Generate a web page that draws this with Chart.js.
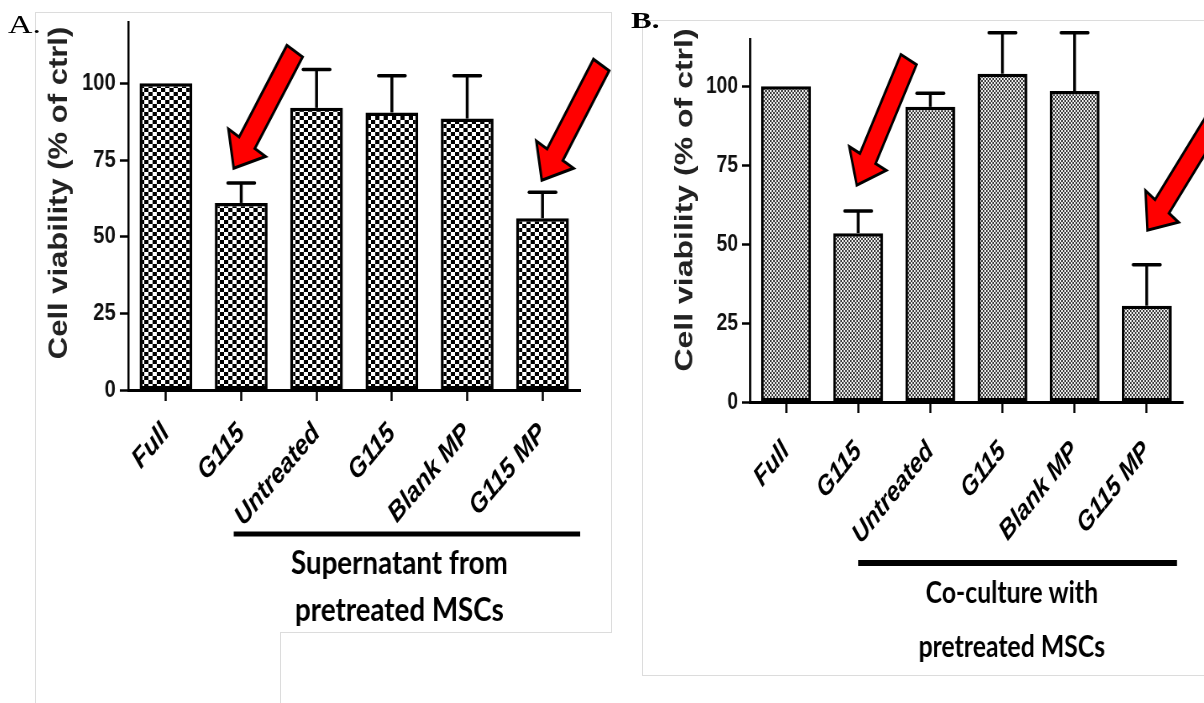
<!DOCTYPE html>
<html>
<head>
<meta charset="utf-8">
<script src="https://cdn.jsdelivr.net/npm/chart.js@4.4.0/dist/chart.umd.min.js"></script>
<style>
  html, body { margin: 0; padding: 0; background: #fff; }
  body { width: 1204px; height: 703px; overflow: hidden; position: relative; }
  .ln { position: absolute; background: #dcdcdc; }
  .wrap { position: absolute; top: 0; transform-origin: 0 0; }
  .tag { position: absolute; font-family: "Liberation Serif", serif; transform-origin: 0 0; white-space: nowrap; }
</style>
</head>
<body>
<!-- faint frames around the two panels -->
<div class="ln" style="left:35px;top:12px;width:577px;height:1px"></div>
<div class="ln" style="left:35px;top:12px;width:1px;height:691px"></div>
<div class="ln" style="left:611px;top:12px;width:1px;height:621px"></div>
<div class="ln" style="left:280px;top:632px;width:332px;height:1px"></div>
<div class="ln" style="left:280px;top:632px;width:1px;height:71px"></div>
<div class="ln" style="left:642px;top:20px;width:562px;height:1px"></div>
<div class="ln" style="left:642px;top:20px;width:1px;height:656px"></div>
<div class="ln" style="left:642px;top:675px;width:562px;height:1px"></div>

<div class="wrap" style="left:35px;transform:scaleX(0.84)"><canvas id="chartA" width="686" height="703"></canvas></div>
<div class="wrap" style="left:642px;transform:scaleX(0.8)"><canvas id="chartB" width="703" height="703"></canvas></div>

<div class="tag" style="left:8px;top:10px;font-size:26px;transform:scaleX(1.3)">A.</div>
<div class="tag" style="left:631px;top:8px;font-size:23px;font-weight:bold;transform:scaleX(1.35)">B.</div>

<script>
// groups on the x axis
const categories = ['Full', 'G115', 'Untreated', 'G115', 'Blank MP', 'G115 MP'];

// A. supernatant from pretreated MSCs
const supernatantMean = [100, 61, 92, 90.5, 88.5, 56];
const supernatantErr = [0, 6.5, 12.5, 12, 14, 8.5];

// B. co-culture with pretreated MSCs
const cocultureMean = [100, 53.5, 93.5, 104, 98.5, 30.5];
const cocultureErr = [0, 7, 4.3, 13, 18.5, 13];

const yStep = 25;
const yTitle = 'Cell viability (% of ctrl)';
const groupA = ['Supernatant from', 'pretreated MSCs'];
const groupB = ['Co-culture with', 'pretreated MSCs'];

// arrows, in data units: [category index, value]
const arrowsA = [
	{from: [1.71, 110.5], to: [0.9, 72.3]},
	{from: [5.78, 106], to: [4.99, 68.4]}
];
const arrowsB = [
	{from: [1.70, 108.5], to: [0.98, 68.7]},
	{from: [6.15, 97], to: [5.01, 54.4]}
];

function checker(w, h, c1, c2) {
	const p = document.createElement('canvas');
	p.width = w * 2; p.height = h * 2;
	const g = p.getContext('2d');
	g.fillStyle = c2; g.fillRect(0, 0, p.width, p.height);
	g.fillStyle = c1;
	g.fillRect(0, 0, w, h);
	g.fillRect(w, h, w, h);
	return g.createPattern(p, 'repeat');
}

const errorBars = {
	id: 'errorBars',
	afterDatasetsDraw(chart, args, opts) {
		const ctx = chart.ctx, y = chart.scales.y;
		const data = chart.data.datasets[0].data;
		ctx.save();
		ctx.strokeStyle = '#000';
		ctx.lineWidth = opts.width;
		chart.getDatasetMeta(0).data.forEach((bar, i) => {
			const e = opts.values[i];
			if (!e) return;
			const top = y.getPixelForValue(data[i] + e);
			ctx.lineCap = 'butt';
			ctx.beginPath();
			ctx.moveTo(bar.x, bar.y);
			ctx.lineTo(bar.x, top);
			ctx.stroke();
			ctx.lineCap = 'round';
			ctx.beginPath();
			ctx.moveTo(bar.x - opts.cap / 2, top);
			ctx.lineTo(bar.x + opts.cap / 2, top);
			ctx.stroke();
		});
		ctx.restore();
	}
};

const arrows = {
	id: 'arrows',
	afterDraw(chart, args, opts) {
		const ctx = chart.ctx, sx = chart.scales.x, sy = chart.scales.y;
		ctx.save();
		opts.list.forEach(a => {
			const tx = sx.getPixelForValue(a.from[0]), ty = sy.getPixelForValue(a.from[1]);
			const px = sx.getPixelForValue(a.to[0]), py = sy.getPixelForValue(a.to[1]);
			const len = Math.hypot(px - tx, py - ty);
			const ux = (px - tx) / len, uy = (py - ty) / len;
			const nx = -uy, ny = ux;
			const bx = px - ux * opts.headLen, by = py - uy * opts.headLen;
			const w = opts.shaft / 2, hw = opts.head / 2;
			ctx.beginPath();
			ctx.moveTo(tx + nx * w, ty + ny * w);
			ctx.lineTo(bx + nx * w, by + ny * w);
			ctx.lineTo(bx + nx * hw, by + ny * hw);
			ctx.lineTo(px, py);
			ctx.lineTo(bx - nx * hw, by - ny * hw);
			ctx.lineTo(bx - nx * w, by - ny * w);
			ctx.lineTo(tx - nx * w, ty - ny * w);
			ctx.closePath();
			ctx.fillStyle = '#ff0000';
			ctx.fill();
			ctx.lineWidth = 3;
			ctx.lineJoin = 'miter';
			ctx.strokeStyle = '#000';
			ctx.stroke();
		});
		ctx.restore();
	}
};

const extras = {
	id: 'extras',
	afterDraw(chart, args, opts) {
		const ctx = chart.ctx, sx = chart.scales.x;
		ctx.save();
		// y axis title
		ctx.translate(opts.titleX, opts.titleY);
		ctx.rotate(-Math.PI / 2);
		ctx.font = 'bold ' + opts.titleSize + 'px "Liberation Sans", Arial, sans-serif';
		ctx.fillStyle = '#222';
		ctx.textAlign = 'center';
		ctx.textBaseline = 'middle';
		ctx.fillText(yTitle, 0, 0);
		ctx.restore();

		// group bar and its caption
		ctx.save();
		ctx.strokeStyle = '#000';
		ctx.lineWidth = opts.barWidth;
		ctx.beginPath();
		ctx.moveTo(sx.getPixelForValue(opts.barFrom), opts.barY);
		ctx.lineTo(sx.getPixelForValue(opts.barTo), opts.barY);
		ctx.stroke();
		ctx.font = 'bold ' + opts.textSize + 'px Lato, "Open Sans", sans-serif';
		ctx.fillStyle = '#000';
		ctx.textAlign = 'center';
		ctx.textBaseline = 'middle';
		opts.lines.forEach((t, i) => {
			ctx.fillText(t, sx.getPixelForValue(opts.textAt), opts.textY[i]);
		});
		ctx.restore();
	}
};

function makeChart(id, means, errs, cfg) {
	const ctx = document.getElementById(id).getContext('2d');
	return new Chart(ctx, {
		type: 'bar',
		data: {
			labels: categories,
			datasets: [{
				data: means,
				backgroundColor: cfg.fill,
				borderColor: '#000',
				borderWidth: 3.5,
				borderSkipped: false,
				barPercentage: cfg.barPct,
				categoryPercentage: 1
			}]
		},
		options: {
			responsive: false,
			animation: false,
			events: [],
			layout: {padding: {left: 0, right: cfg.padRight, top: cfg.padTop, bottom: 0}},
			plugins: {
				legend: {display: false},
				tooltip: {enabled: false},
				errorBars: {values: errs, width: 3.5, cap: cfg.cap},
				arrows: {list: cfg.arrows, shaft: 22, head: 52, headLen: 30},
				extras: cfg.extras
			},
			scales: {
				x: {
					afterFit: (s) => { s.height = cfg.xHeight; },
					grid: {offset: false, drawOnChartArea: false, drawTicks: true, tickLength: 11, tickWidth: 2.5, tickColor: '#000'},
					border: {display: true, color: '#000', width: 3},
					ticks: {
						autoSkip: false, minRotation: 45, maxRotation: 45, padding: cfg.xPad, color: '#000',
						font: {family: '"Liberation Sans", Arial, sans-serif', size: cfg.xFont, weight: 'bold', style: 'italic'}
					}
				},
				y: {
					min: 0, max: cfg.yMax,
					afterFit: (s) => { s.width = cfg.yWidth; },
					grid: {drawOnChartArea: false, drawTicks: true, tickLength: 10, tickWidth: 2.5, tickColor: '#000'},
					border: {display: true, color: '#000', width: 2.5},
					ticks: {
						stepSize: yStep, includeBounds: false, padding: 5, color: '#111',
						font: {family: '"Liberation Sans", Arial, sans-serif', size: cfg.yFont, weight: 'bold'}
					}
				}
			}
		},
		plugins: [errorBars, arrows, extras]
	});
}

makeChart('chartA', supernatantMean, supernatantErr, {
	fill: checker(5, 4, '#000', '#fff'),
	barPct: 0.70, cap: 32,
	padRight: 37, padTop: 22, xHeight: 313, yWidth: 111, yMax: 120,
	xFont: 28, yFont: 24, xPad: 16,
	arrows: arrowsA,
	extras: {
		titleX: 29, titleY: 193, titleSize: 31,
		barFrom: 0.9, barTo: 5.5, barY: 534, barWidth: 5,
		textAt: 3.1, textY: [563, 610], textSize: 33, lines: groupA
	}
});

makeChart('chartB', cocultureMean, cocultureErr, {
	fill: checker(2, 2, '#3a3a3a', '#f0f0f0'),
	barPct: 0.69, cap: 34,
	padRight: 27, padTop: 39, xHeight: 301, yWidth: 135, yMax: 115,
	xFont: 28, yFont: 24, xPad: 22,
	arrows: arrowsB,
	extras: {
		titleX: 54, titleY: 200, titleSize: 32,
		barFrom: 1.0, barTo: 5.42, barY: 563, barWidth: 6,
		textAt: 3.13, textY: [593, 647], textSize: 31, lines: groupB
	}
});
</script>
</body>
</html>
